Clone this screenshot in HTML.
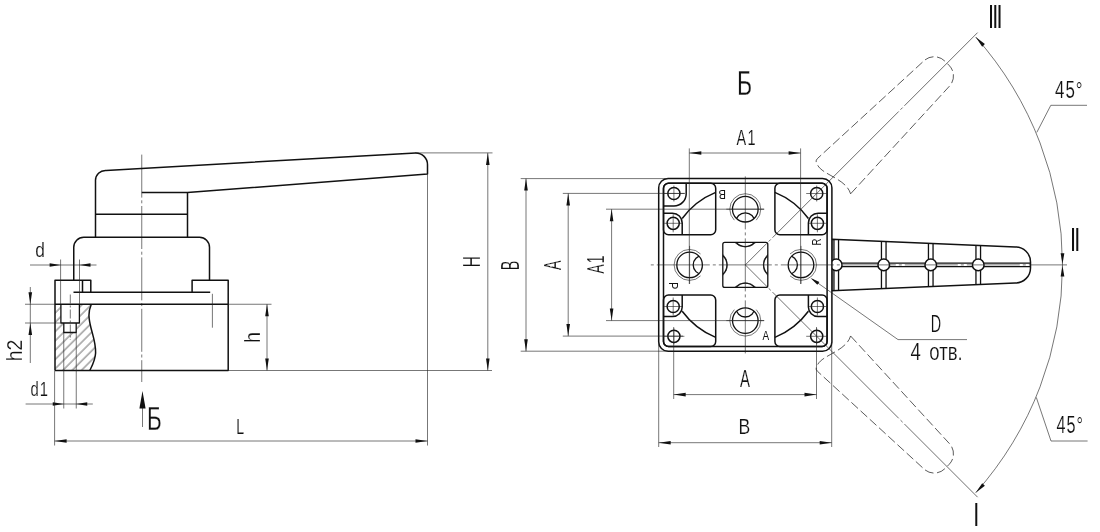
<!DOCTYPE html>
<html lang="ru"><head><meta charset="utf-8"><title>Чертёж</title>
<style>
html,body{margin:0;padding:0;background:#fff}
svg{display:block;filter:grayscale(1)}
.k{fill:none;stroke:#111;stroke-width:1.5;stroke-linejoin:round;stroke-linecap:butt}
.m{fill:none;stroke:#111;stroke-width:1.1}
.n{fill:none;stroke:#111;stroke-width:1.3;stroke-linejoin:round}
.t{fill:none;stroke:#222;stroke-width:0.62}
.c{fill:none;stroke:#222;stroke-width:0.62;stroke-dasharray:14 2.5 2.5 2.5}
.d{fill:none;stroke:#222;stroke-width:0.7;stroke-dasharray:9 3.5}
.a{fill:#111;stroke:none}
.w{fill:#fff;stroke:#111;stroke-width:1.5}
text{font-family:"Liberation Sans",sans-serif;fill:#111;stroke:#fff;stroke-width:0.45}
</style></head><body>
<svg width="1100" height="532" viewBox="0 0 1100 532">
<rect width="1100" height="532" fill="#fff"/>
<defs>
<pattern id="h" width="6.576" height="6.576" patternUnits="userSpaceOnUse" patternTransform="rotate(-45)">
<line x1="0" y1="3.82" x2="6.576" y2="3.82" stroke="#222" stroke-width="0.65"/>
</pattern>
</defs>

<!-- left view -->
<path fill="url(#h)" stroke="none" fill-rule="evenodd" d="M55,304.25 H91.3 C88,312 88.5,318 91,328 C93,336 96,344 95.6,353 C95.3,360 92.5,365 89.8,370.5 H55 Z M60.75,304.25 V323 H63.75 V332.5 H76.25 V323 H79.5 V304.25 Z"/>
<line class="c" x1="141.75" y1="154.6" x2="141.75" y2="382" style="stroke-dasharray:43 2.7 3 2.7"/>
<path class="k" d="M95.5,237.25 V180.8 A10,10 0 0 1 106.1,170.45 L415.6,152.9 A11.8,11.8 0 0 1 427.5,164.9 V174.1 L187.5,192.5 H141.75"/>
<path class="k" d="M187.5,192.5 V237.25 M95.5,214.25 H187.5"/>
<path class="k" d="M73.75,280.3 V247.25 A10,10 0 0 1 83.75,237.25 H199.5 A10,10 0 0 1 209.5,247.25 V280.3"/>
<path class="k" d="M55,370.5 V280.3 H90.8 V292.2 M82.5,280.3 V292.2 M73.5,292.2 H210.2 M192.1,292.2 V280.3 H228.2 V370.5 H55 M55,304.25 H228.2"/>
<path class="k" d="M91.3,304.25 C88,312 88.5,318 91,328 C93,336 96,344 95.6,353 C95.3,360 92.5,365 89.8,370.5"/>
<path class="n" d="M60.9,304.25 V323 H79.4 V304.25 M63.8,323 V332.5 H76.2 V323"/>
<line class="c" x1="70.3" y1="294.5" x2="70.3" y2="340" style="stroke-dasharray:9 2 2 2"/>
<line class="t" x1="212.4" y1="293.8" x2="212.4" y2="327.7"/>
<path class="t" d="M60.6,259.5 V304 M79.5,259.5 V304 M30,265 H96.5"/>
<polygon class="a" points="60.60,265.00 49.60,266.80 49.60,263.20"/>
<polygon class="a" points="79.50,265.00 90.50,263.20 90.50,266.80"/>
<text transform="translate(35.37,257.10) scale(0.849,1)" font-size="20.41" style="stroke-width:0.16;">d</text>
<path class="t" d="M25,304.25 H55 M25,323 H60.75 M30.3,287 V363"/>
<polygon class="a" points="30.30,304.25 28.50,292.25 32.10,292.25"/>
<polygon class="a" points="30.30,323.00 32.10,335.00 28.50,335.00"/>
<text transform="translate(22.40,361.25) rotate(-90) scale(0.896,1)" font-size="21.79" style="stroke-width:0.17;">h2</text>
<path class="t" d="M63.75,332.5 V408.5 M76.25,332.5 V408.5 M25.6,404 H92.8"/>
<polygon class="a" points="63.75,404.00 52.75,405.80 52.75,402.20"/>
<polygon class="a" points="76.25,404.00 87.25,402.20 87.25,405.80"/>
<text transform="translate(30.38,395.69) scale(0.711,1)" font-size="20.82" style="letter-spacing:1.5px;stroke-width:0.17;">d1</text>
<path class="t" d="M54.6,370.5 V445.5 M427.5,174.25 V445.5 M54.6,441 H427.5"/>
<polygon class="a" points="54.60,441.00 66.60,439.20 66.60,442.80"/>
<polygon class="a" points="427.50,441.00 415.50,442.80 415.50,439.20"/>
<text transform="translate(236.15,433.50) scale(0.624,1)" font-size="22.53" style="stroke-width:0.18;">L</text>
<path class="t" d="M228.2,304.25 H271.5 M228.2,370.5 H492 M267,304.25 V370.5"/>
<polygon class="a" points="267.00,304.25 268.80,316.25 265.20,316.25"/>
<polygon class="a" points="267.00,370.50 265.20,358.50 268.80,358.50"/>
<text transform="translate(260.00,343.07) rotate(-90) scale(0.873,1)" font-size="22.76" style="stroke-width:0.18;">h</text>
<path class="t" d="M415,152.9 H492.5 M487.8,152.9 V370.5"/>
<polygon class="a" points="487.80,152.90 489.60,164.90 486.00,164.90"/>
<polygon class="a" points="487.80,370.50 486.00,358.50 489.60,358.50"/>
<text transform="translate(480.00,267.25) rotate(-90) scale(0.619,1)" font-size="24.56" style="stroke-width:0.20;">H</text>
<line class="t" x1="142.5" y1="400" x2="142.5" y2="427"/>
<polygon class="a" points="142.50,391.00 145.60,408.50 139.40,408.50"/>
<text transform="translate(146.91,429.90) scale(0.661,1)" font-size="34.01" style="stroke-width:0.27;">Б</text>
<!-- view B -->
<text transform="translate(737.10,95.30) scale(0.674,1)" font-size="34.30" style="stroke-width:0.27;">Б</text>
<g transform="translate(745.3,264.9) rotate(-45)"><path class="d" d="M124.70,24.19 L269.90,18.00 A15,15 0 0 0 285.2,3.00 V-3.00 A15,15 0 0 0 269.90,-18.00 L126.50,-24.19 Q122.50,-24.39 122.00,-20.19 C117.50,-10 132.50,10 124.70,24.19"/></g>
<g transform="translate(745.3,264.9) scale(1,-1) rotate(-45)"><path class="d" d="M124.70,24.19 L269.90,18.00 A15,15 0 0 0 285.2,3.00 V-3.00 A15,15 0 0 0 269.90,-18.00 L126.50,-24.19 Q122.50,-24.39 122.00,-20.19 C117.50,-10 132.50,10 124.70,24.19"/></g>
<path class="w" d="M831.80,239.15 L1015.20,246.90 A15,15 0 0 1 1030.50,261.90 V267.90 A15,15 0 0 1 1015.20,282.90 L831.80,290.65 Z"/>
<path class="n" d="M833.95,239.24 V290.56 M838.55,239.43 V290.37 M881.45,241.24 V288.56 M886.05,241.43 V288.37 M928.45,243.21 V286.59 M933.05,243.41 V286.39 M975.95,245.21 V284.59 M980.55,245.40 V284.40 "/>
<path class="n" d="M831.80,263.10 H1030.50 M831.80,266.70 H1030.50"/>
<circle class="w" cx="836.25" cy="264.9" r="5.8"/>
<circle class="w" cx="883.75" cy="264.9" r="5.8"/>
<circle class="w" cx="930.75" cy="264.9" r="5.8"/>
<circle class="w" cx="978.25" cy="264.9" r="5.8"/>
<rect class="w" x="658.7" y="178.5" width="173.2" height="172.8" rx="9.3"/>
<rect class="k" x="663.5" y="183.3" width="163.6" height="163.2" rx="5"/>
<rect class="k" x="663.50" y="183.30" width="52.20" height="51.50" rx="5"/>
<rect class="k" x="774.90" y="183.30" width="52.20" height="51.50" rx="5"/>
<rect class="k" x="663.50" y="295.00" width="52.20" height="51.50" rx="5"/>
<rect class="k" x="774.90" y="295.00" width="52.20" height="51.50" rx="5"/>
<circle class="k" cx="673.90" cy="193.50" r="6.1"/>
<circle class="k" cx="673.20" cy="223.30" r="6.1"/>
<path class="t" d="M664.20,223.30 h18 M673.20,214.30 v18"/>
<path class="k" d="M663.50,213.20 H672.50 A9.7,9.7 0 0 1 682.20,222.90 V234.80"/>
<circle class="k" cx="673.90" cy="336.30" r="6.1"/>
<circle class="k" cx="673.20" cy="306.50" r="6.1"/>
<path class="t" d="M664.20,306.50 h18 M673.20,297.50 v18"/>
<path class="k" d="M663.50,316.60 H672.50 A9.7,9.7 0 0 0 682.20,306.90 V295.00"/>
<circle class="k" cx="816.70" cy="193.50" r="6.1"/>
<circle class="k" cx="817.40" cy="223.30" r="6.1"/>
<path class="t" d="M808.40,223.30 h18 M817.40,214.30 v18"/>
<path class="k" d="M827.10,213.20 H818.10 A9.7,9.7 0 0 0 808.40,222.90 V234.80"/>
<circle class="k" cx="816.70" cy="336.30" r="6.1"/>
<circle class="k" cx="817.40" cy="306.50" r="6.1"/>
<path class="t" d="M808.40,306.50 h18 M817.40,297.50 v18"/>
<path class="k" d="M827.10,316.60 H818.10 A9.7,9.7 0 0 1 808.40,306.90 V295.00"/>
<path class="t" d="M663.40,193.50 h21 M673.90,185.50 v16"/>
<path class="t" d="M663.40,336.30 h21 M673.90,328.30 v16"/>
<path class="t" d="M806.20,193.50 h21 M816.70,185.50 v16"/>
<path class="t" d="M806.20,336.30 h21 M816.70,328.30 v16"/>
<path class="k" d="M686.2,183.3 V193.7 A12.3,12.3 0 0 1 673.9,206 H663.5"/>
<path class="k" d="M715.70,192.41 A78.3,78.3 0 0 0 682.20,218.54"/>
<path class="k" d="M715.70,337.39 A78.3,78.3 0 0 1 682.20,311.26"/>
<path class="k" d="M774.90,192.41 A78.3,78.3 0 0 1 808.40,218.54"/>
<path class="k" d="M774.90,337.39 A78.3,78.3 0 0 0 808.40,311.26"/>
<defs>
<clipPath id="p0"><circle cx="745.30" cy="209.20" r="12.8"/></clipPath>
<clipPath id="p1"><circle cx="801.00" cy="264.90" r="12.8"/></clipPath>
<clipPath id="p2"><circle cx="745.30" cy="320.60" r="12.8"/></clipPath>
<clipPath id="p3"><circle cx="689.60" cy="264.90" r="12.8"/></clipPath>
<clipPath id="sq"><rect x="722.8" y="242.39999999999998" width="45" height="45"/></clipPath>
</defs>
<circle class="n" cx="745.30" cy="209.20" r="12.8"/>
<path class="t" d="M734.34,220.16 A15.5,15.5 0 1 1 756.26,220.16"/>
<circle class="n" clip-path="url(#p0)" cx="745.30" cy="222.30" r="9.5"/>
<circle class="n" clip-path="url(#sq)" cx="745.30" cy="234.30" r="12.3"/>
<circle class="t" clip-path="url(#sq)" cx="745.30" cy="231.90" r="15"/>
<circle class="n" cx="801.00" cy="264.90" r="12.8"/>
<path class="t" d="M790.04,253.94 A15.5,15.5 0 1 1 790.04,275.86"/>
<circle class="n" clip-path="url(#p1)" cx="787.90" cy="264.90" r="9.5"/>
<circle class="n" clip-path="url(#sq)" cx="775.90" cy="264.90" r="12.3"/>
<circle class="t" clip-path="url(#sq)" cx="778.30" cy="264.90" r="15"/>
<circle class="n" cx="745.30" cy="320.60" r="12.8"/>
<path class="t" d="M756.26,309.64 A15.5,15.5 0 1 1 734.34,309.64"/>
<circle class="n" clip-path="url(#p2)" cx="745.30" cy="307.50" r="9.5"/>
<circle class="n" clip-path="url(#sq)" cx="745.30" cy="295.50" r="12.3"/>
<circle class="t" clip-path="url(#sq)" cx="745.30" cy="297.90" r="15"/>
<circle class="n" cx="689.60" cy="264.90" r="12.8"/>
<path class="t" d="M700.56,275.86 A15.5,15.5 0 1 1 700.56,253.94"/>
<circle class="n" clip-path="url(#p3)" cx="702.70" cy="264.90" r="9.5"/>
<circle class="n" clip-path="url(#sq)" cx="714.70" cy="264.90" r="12.3"/>
<circle class="t" clip-path="url(#sq)" cx="712.30" cy="264.90" r="15"/>
<rect class="n" x="722.8" y="242.39999999999998" width="45" height="45" rx="2"/>
<line class="c" x1="650" y1="264.9" x2="1067" y2="264.9" style="stroke-dasharray:53 3 3 3;stroke-dashoffset:55.2"/>
<line class="c" x1="745.3" y1="176.4" x2="745.3" y2="353.4" style="stroke-dasharray:53 3 3 3"/>
<g transform="translate(745.3,264.9) rotate(-45)"><line class="c" x1="0" y1="0" x2="328.5" y2="0" style="stroke-dasharray:178.5 2.5 3 2.5;stroke-dashoffset:148"/></g>
<g transform="translate(745.3,264.9) rotate(45)"><line class="c" x1="0" y1="0" x2="328.5" y2="0" style="stroke-dasharray:178.5 2.5 3 2.5;stroke-dashoffset:148"/></g>
<path class="t" d="M726.3,209.2 h38 M726.3,320.59999999999997 h38 M689.5999999999999,245.89999999999998 v38 M801.0,245.89999999999998 v38"/>
<text transform="translate(725.92,190.20) rotate(180) scale(0.895,1)" font-size="12.57" style="stroke:none;">B</text>
<text transform="translate(762.48,339.70) scale(0.761,1)" font-size="13.08" style="stroke:none;">A</text>
<text transform="translate(668.80,282.11) rotate(90) scale(0.814,1)" font-size="13.37" style="stroke:none;">P</text>
<text transform="translate(820.80,245.49) rotate(-90) scale(0.750,1)" font-size="12.79" style="stroke:none;">R</text>
<path class="t" d="M689.3,148.4 V284 M800.6,148.4 V284 M689.3,153 H800.6"/>
<polygon class="a" points="689.30,153.00 701.30,151.20 701.30,154.80"/>
<polygon class="a" points="800.60,153.00 788.60,154.80 788.60,151.20"/>
<text transform="translate(736.57,145.00) scale(0.629,1)" font-size="22.97" style="letter-spacing:2px;stroke-width:0.18;">A1</text>
<path class="t" d="M520.7,178.6 H668 M520.7,351.2 H668 M526,178.6 V351.2"/>
<polygon class="a" points="526.00,178.60 527.80,190.60 524.20,190.60"/>
<polygon class="a" points="526.00,351.20 524.20,339.20 527.80,339.20"/>
<text transform="translate(518.90,270.28) rotate(-90) scale(0.578,1)" font-size="25.00" style="stroke-width:0.20;">B</text>
<path class="t" d="M562.8,193.4 H685 M562.8,336.1 H683 M568.2,193.4 V336.1"/>
<polygon class="a" points="568.20,193.40 570.00,205.40 566.40,205.40"/>
<polygon class="a" points="568.20,336.10 566.40,324.10 570.00,324.10"/>
<text transform="translate(561.20,269.93) rotate(-90) scale(0.589,1)" font-size="24.56" style="stroke-width:0.20;">A</text>
<path class="t" d="M606,209.2 H764 M606,320.6 H764 M611.6,209.2 V320.6"/>
<polygon class="a" points="611.60,209.20 613.40,221.20 609.80,221.20"/>
<polygon class="a" points="611.60,320.60 609.80,308.60 613.40,308.60"/>
<text transform="translate(604.30,273.53) rotate(-90) scale(0.574,1)" font-size="23.98" style="letter-spacing:2px;stroke-width:0.19;">A1</text>
<path class="t" d="M673.7,327 V399 M816.5,327 V399 M673.7,394.6 H816.5"/>
<polygon class="a" points="673.70,394.60 685.70,392.80 685.70,396.40"/>
<polygon class="a" points="816.50,394.60 804.50,396.40 804.50,392.80"/>
<text transform="translate(739.97,386.90) scale(0.615,1)" font-size="24.27" style="stroke-width:0.19;">A</text>
<path class="t" d="M658.7,342 V447 M831.7,342 V447 M658.7,442.7 H831.7"/>
<polygon class="a" points="658.70,442.70 670.70,440.90 670.70,444.50"/>
<polygon class="a" points="831.70,442.70 819.70,444.50 819.70,440.90"/>
<text transform="translate(738.55,434.30) scale(0.768,1)" font-size="22.97" style="stroke-width:0.18;">B</text>
<path class="t" d="M812.4,279.2 L898,339.6 H967"/>
<polygon class="a" points="810.60,277.90 819.40,281.91 817.32,284.85"/>
<text transform="translate(930.82,332.10) scale(0.609,1)" font-size="23.55" style="stroke-width:0.19;">D</text>
<text transform="translate(910.59,360.37) scale(0.800,1)" font-size="23.21" style="word-spacing:4px;stroke-width:0.19;">4 отв.</text>
<path class="t" d="M975.67,37.00 A342.5,342.5 0 0 1 975.67,492.80"/>
<polygon class="a" points="975.67,37.00 984.89,44.11 982.20,46.65"/>
<polygon class="a" points="975.67,492.80 982.20,483.15 984.89,485.69"/>
<polygon class="a" points="1062.50,264.00 1060.65,253.20 1064.35,253.20"/>
<polygon class="a" points="1062.50,265.80 1064.35,276.60 1060.65,276.60"/>
<path class="t" d="M1036.8,132.4 L1050.8,105.3 H1087"/>
<path class="t" d="M1036.3,397.4 L1051,441 H1087.6"/>
<text transform="translate(1054.93,97.96) scale(0.697,1)" font-size="24.29" style="letter-spacing:1.5px;stroke-width:0.19;">45°</text>
<text transform="translate(1056.44,433.36) scale(0.675,1)" font-size="24.01" style="letter-spacing:1.5px;stroke-width:0.19;">45°</text>
<text transform="translate(988.03,27.50) scale(0.657,1)" font-size="33.14" style="stroke:none;letter-spacing:-2.82px">III</text>
<text transform="translate(1070.03,250.60) scale(0.652,1)" font-size="33.43" style="stroke:none;letter-spacing:-2.84px">II</text>
<text transform="translate(973.18,526.20) scale(0.646,1)" font-size="33.72" style="stroke:none;letter-spacing:-2.87px">I</text>
</svg></body></html>
